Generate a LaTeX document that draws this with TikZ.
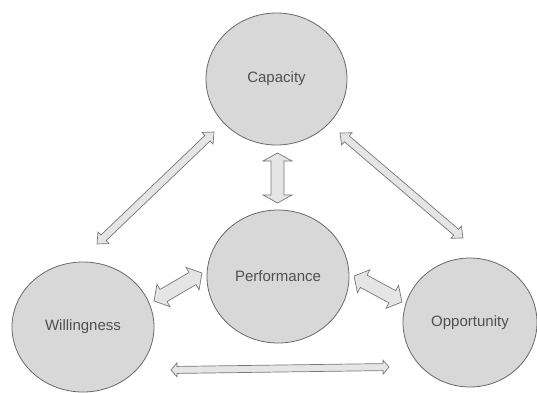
\documentclass[tikz,border=0pt]{standalone}
\usepackage{fontspec}
\setmainfont{Liberation Sans}
\usetikzlibrary{calc,shapes.geometric}
\definecolor{blobfill}{RGB}{216,216,216}
\definecolor{blobline}{RGB}{105,105,105}
\definecolor{arrfill}{RGB}{229,229,229}
\definecolor{arrline}{RGB}{120,120,120}
\definecolor{blobtext}{RGB}{80,80,80}
\def\blockarrow[#1](#2)(#3)(#4:#5:#6){\coordinate (ta) at ($(#2)!#6!(#3)$); \coordinate (tb) at ($(#3)!#6!(#2)$); \draw[#1] (#2) -- ($(ta)!#5!90:(#3)$) -- ($(ta)!#4!90:(#3)$) -- ($(tb)!#4!90:(#3)$) -- ($(tb)!#5!90:(#3)$) -- (#3) -- ($(tb)!#5!-90:(#3)$) -- ($(tb)!#4!-90:(#3)$) -- ($(ta)!#4!-90:(#3)$) -- ($(ta)!#5!-90:(#3)$) -- cycle;}
\tikzset{
	blob/.style={ellipse, draw=blobline, line width=0.8pt, fill=blobfill, text=blobtext, inner sep=0pt, font=\fontsize{15}{18}\selectfont},
	blockarr/.style={draw=arrline, line width=0.7pt, fill=arrfill, line join=miter}
}

\begin{document}
\begin{tikzpicture}[x=1pt, y=-1pt]
		%%%%% START %%%%%
		
		\useasboundingbox[fill=white] (0, 0) rectangle (537, 392);
		
		\node[blob, minimum width=141pt, minimum height=132pt] (cap) at (276.5, 79) {Capacity};
		\node[blob, minimum width=142pt, minimum height=133pt] (perf) at (278, 276.5) {Performance};
		\node[blob, minimum width=142pt, minimum height=130pt] (will) at (83, 327) {Willingness};
		\node[blob, minimum width=134pt, minimum height=129pt] (opp) at (470, 322.5) {Opportunity};
		
		% arrow ends
		\coordinate (cp1) at (277.5, 153);
		\coordinate (cp2) at (277.5, 203);
		\coordinate (wc1) at (97, 244);
		\coordinate (wc2) at (214, 132);
		\coordinate (oc1) at (340, 133);
		\coordinate (oc2) at (463, 238);
		\coordinate (wp1) at (154, 301);
		\coordinate (wp2) at (202, 273);
		\coordinate (po1) at (354, 276);
		\coordinate (po2) at (402, 302);
		\coordinate (wo1) at (171, 370);
		\coordinate (wo2) at (389, 367);
		
		\blockarrow[blockarr](cp1)(cp2)(6.5pt:14.5pt:8pt);
		\blockarrow[blockarr](wc1)(wc2)(3.8pt:8pt:9pt);
		\blockarrow[blockarr](oc1)(oc2)(3.8pt:8pt:9pt);
		\blockarrow[blockarr](wp1)(wp2)(7pt:13pt:11pt);
		\blockarrow[blockarr](po1)(po2)(7pt:13pt:11pt);
		\blockarrow[blockarr](wo1)(wo2)(3.5pt:7pt:6pt);
		
		%%%%% END %%%%%
	\end{tikzpicture}
\end{document}
